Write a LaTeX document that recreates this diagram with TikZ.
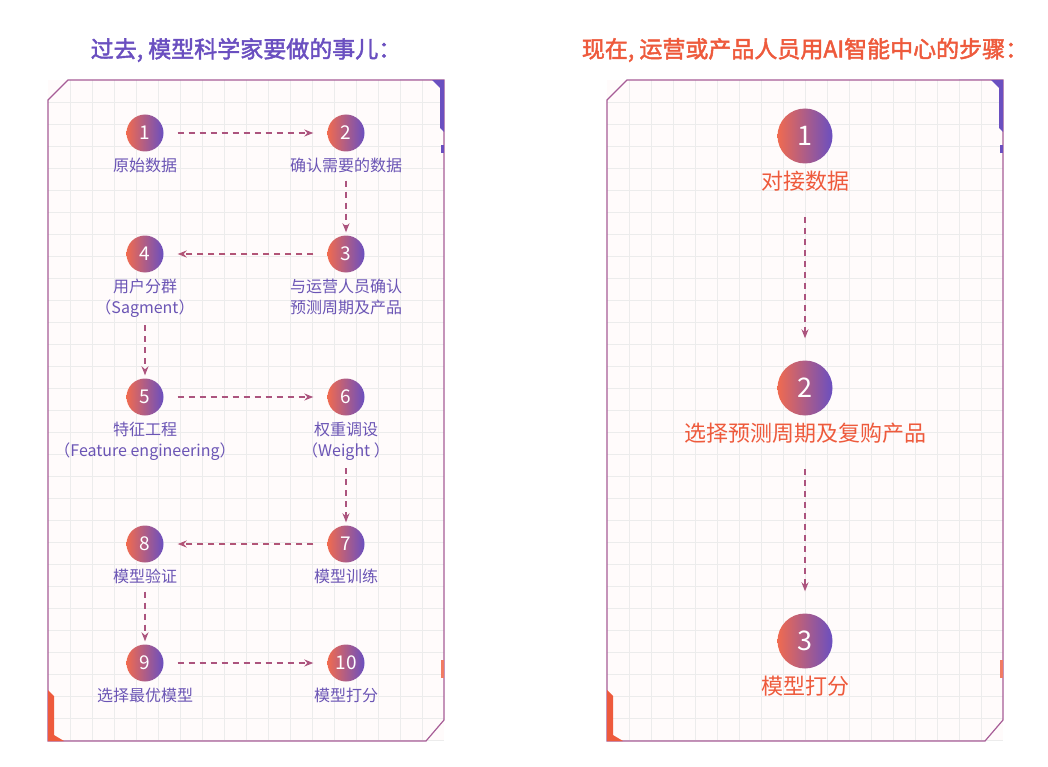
\documentclass[tikz,border=0pt]{standalone}
\usepackage{fontspec}
\setmainfont{Noto Sans CJK SC}
\newfontfamily\cjkbold[FakeBold=2]{Noto Sans CJK SC}
\usepackage{tikz}
\usetikzlibrary{arrows.meta}
\definecolor{violet}{HTML}{6A4FC0}
\definecolor{coral}{HTML}{EE5A3C}
\definecolor{lilac}{HTML}{6B55B5}
\definecolor{framec}{HTML}{A65C96}
\tikzset{>=Stealth}
\tikzset{
  ball/.style={circle,minimum size=37pt,inner sep=0pt,left color=coral!90,right color=violet,text=white,font=\fontsize{19}{19}\selectfont},
  bigball/.style={ball,minimum size=55pt,font=\fontsize{27}{27}\selectfont},
  caption/.style={text=lilac,align=center,font=\fontsize{16}{21}\selectfont},
  bigcaption/.style={text=coral,align=center,font=\fontsize{22}{26}\selectfont},
  flow/.style={dash pattern=on 6pt off 5pt,line width=1.3pt,-{Stealth[length=9pt,width=7pt]}},
  panel/.style={framec,line width=1.2pt}
}
\begin{document}
\begin{tikzpicture}[x=1pt,y=-1pt]
  \useasboundingbox[fill=white] (0,0) rectangle (1048,767);

  % Titles
  \node[text=violet,font=\cjkbold\fontsize{23}{23}\selectfont] (ltitle) at (246,50) {过去, 模型科学家要做的事儿：};
  \node[text=coral,font=\cjkbold\fontsize{23}{23}\selectfont] (rtitle) at (805,50) {现在, 运营或产品人员用AI智能中心的步骤：};

  % Panels
  \foreach \ox in {48,607}{
    \fill[red!1.5] (\ox,80) rectangle ++(396,661);
    \foreach \gx in {22,44,...,390} \draw[gray!15] (\ox+\gx,80) -- ++(0,661);
    \foreach \gy in {22,44,...,660} \draw[gray!15] (\ox,80+\gy) -- ++(396,0);
    \draw[panel] (\ox,100) -- ++(20,-20) -- ++(376,0) -- ++(0,640) -- ++(-18,21) -- ++(-378,0) -- cycle;
    \fill[violet] (\ox+352,80) -- ++(44,0) -- ++(0,52) -- ++(-4,-4) -- ++(0,-40) -- ++(-8,-8) -- cycle;
    \fill[violet] (\ox+393,145) rectangle ++(3,8);
    \fill[coral] (\ox,690) -- ++(6,6) -- ++(0,39) -- ++(10,6) -- ++(-16,0) -- cycle;
    \fill[coral!80] (\ox+393,660) rectangle ++(3,18);
  }

  % Left steps
  \node[ball] (n1) at (145,133) {1};
  \node[ball] (n2) at (346,133) {2};
  \node[ball] (n3) at (346,254) {3};
  \node[ball] (n4) at (145,254) {4};
  \node[ball] (n5) at (145,397) {5};
  \node[ball] (n6) at (346,397) {6};
  \node[ball] (n7) at (346,544) {7};
  \node[ball] (n8) at (145,544) {8};
  \node[ball] (n9) at (145,663) {9};
  \node[ball] (n10) at (346,663) {10};
  \node[caption,below=3pt] (t1) at (n1.south) {原始数据};
  \node[caption,below=3pt] (t2) at (n2.south) {确认需要的数据};
  \node[caption,below=3pt] (t3) at (n3.south) {与运营人员确认\\预测周期及产品};
  \node[caption,below=3pt] (t4) at (n4.south) {用户分群\\（Sagment）};
  \node[caption,below=3pt] (t5) at (n5.south) {特征工程\\（Feature engineering）};
  \node[caption,below=3pt] (t6) at (n6.south) {权重调设\\（Weight ）};
  \node[caption,below=3pt] (t7) at (n7.south) {模型训练};
  \node[caption,below=3pt] (t8) at (n8.south) {模型验证};
  \node[caption,below=3pt] (t9) at (n9.south) {选择最优模型};
  \node[caption,below=3pt] (t10) at (n10.south) {模型打分};

  \draw[flow,violet!50!coral] ([xshift=14pt]n1.east) -- ([xshift=-14pt]n2.west);
  \draw[flow,violet!50!coral] ([yshift=-4pt]t2.south) -- ([yshift=3pt]n3.north);
  \draw[flow,coral!55!violet] ([xshift=-14pt]n3.west) -- ([xshift=14pt]n4.east);
  \draw[flow,violet!50!coral] ([yshift=-4pt]t4.south) -- ([yshift=3pt]n5.north);
  \draw[flow,violet!50!coral] ([xshift=14pt]n5.east) -- ([xshift=-14pt]n6.west);
  \draw[flow,violet!50!coral] ([yshift=-4pt]t6.south) -- ([yshift=3pt]n7.north);
  \draw[flow,coral!55!violet] ([xshift=-14pt]n7.west) -- ([xshift=14pt]n8.east);
  \draw[flow,violet!50!coral] ([yshift=-4pt]t8.south) -- ([yshift=3pt]n9.north);
  \draw[flow,violet!50!coral] ([xshift=14pt]n9.east) -- ([xshift=-14pt]n10.west);

  % Right steps
  \node[bigball] (m1) at (805,136) {1};
  \node[bigball] (m2) at (805,388) {2};
  \node[bigball] (m3) at (805,641) {3};
  \node[bigcaption,below=4pt] (s1) at (m1.south) {对接数据};
  \node[bigcaption,below=4pt] (s2) at (m2.south) {选择预测周期及复购产品};
  \node[bigcaption,below=4pt] (s3) at (m3.south) {模型打分};
  \draw[flow,violet!50!coral] ([yshift=-22pt]s1.south) -- ([yshift=22pt]m2.north);
  \draw[flow,violet!50!coral] ([yshift=-22pt]s2.south) -- ([yshift=22pt]m3.north);
\end{tikzpicture}
\end{document}
